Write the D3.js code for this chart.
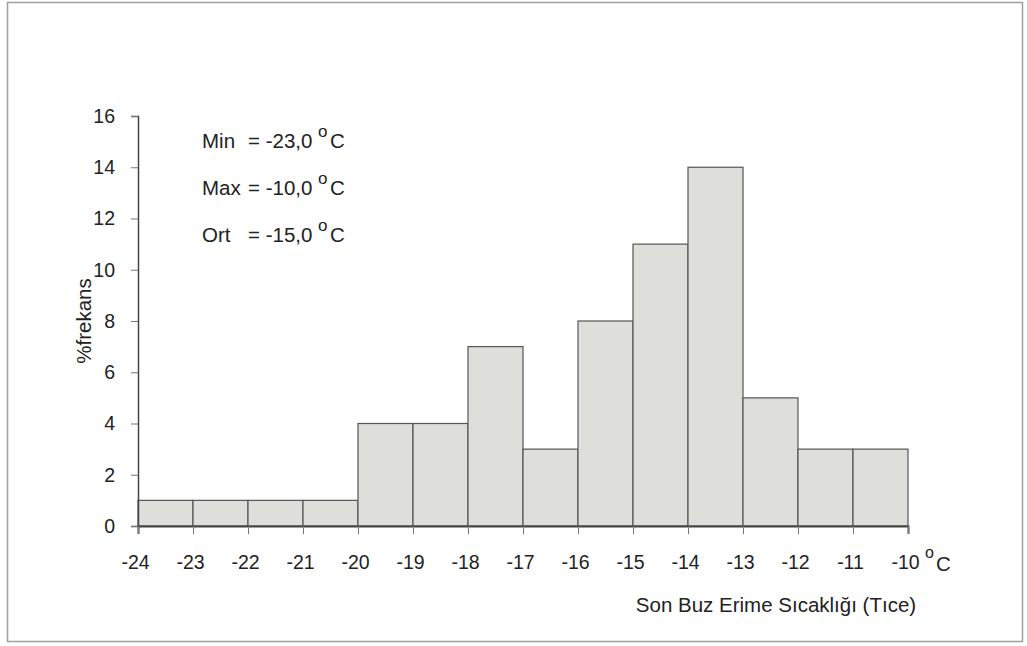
<!DOCTYPE html>
<html>
<head>
<meta charset="UTF-8"/>
<style>
  body { margin: 0; background: #fff; }
  text { font-family: "Liberation Sans", Arial, sans-serif; fill: #222; }
</style>
</head>
<body>
<script src="https://d3js.org/d3.v7.min.js"></script>
<script>
// bin edges and % frequencies
var binStarts = [-24, -23, -22, -21, -20, -19, -18, -17, -16, -15, -14, -13, -12, -11];
var freqs     = [1, 1, 1, 1, 4, 4, 7, 3, 8, 11, 14, 5, 3, 3];
var xTicks = [-24, -23, -22, -21, -20, -19, -18, -17, -16, -15, -14, -13, -12, -11, -10];
var yTicks = [0, 2, 4, 6, 8, 10, 12, 14, 16];
var statNames = ["Min", "Max", "Ort"];
var statValues = ["-23,0", "-10,0", "-15,0"];

var W = 1027, H = 646, FS = 19.5, FL = 20.5;
var svg = d3.select("body").append("svg").attr("width", W).attr("height", H);

// outer frame
svg.append("rect").attr("x", 7.5).attr("y", 2.5).attr("width", 1015).attr("height", 639)
  .attr("fill", "#fff").attr("stroke", "#a0a0a0").attr("stroke-width", 1.5);

var x = d3.scaleLinear().domain([-24, -10]).range([138, 908]);
var y = d3.scaleLinear().domain([0, 16]).range([526, 116]);

// bars
svg.selectAll("rect.bar")
  .data(binStarts)
  .enter().append("rect")
    .attr("class", "bar")
    .attr("x", function(d){ return x(d); })
    .attr("y", function(d, i){ return y(freqs[i]); })
    .attr("width", function(d){ return x(d + 1) - x(d); })
    .attr("height", function(d, i){ return y(0) - y(freqs[i]); })
    .attr("fill", "#dededb")
    .attr("stroke", "#555")
    .attr("stroke-width", 1.2);

// y axis
var yAxis = svg.append("g").attr("transform", "translate(138,0)")
  .call(d3.axisLeft(y).tickValues(yTicks).tickSize(7).tickPadding(16)
    .tickFormat(function(d){ return String(d); }));
// x axis
var xAxis = svg.append("g").attr("transform", "translate(0,526)")
  .call(d3.axisBottom(x).tickValues(xTicks).tickSize(8).tickPadding(21)
    .tickFormat(function(d){ return String(d); }));

[yAxis, xAxis].forEach(function(g){
  g.select(".domain").attr("stroke", "#444").attr("stroke-width", 1.5);
  g.selectAll(".tick line").attr("stroke", "#777");
  g.selectAll(".tick text").attr("font-size", FS).attr("fill", "#222")
    .attr("font-family", "Liberation Sans, Arial, sans-serif");
});
xAxis.select(".domain").attr("stroke-width", 2);
xAxis.selectAll(".tick text").attr("dx", -3);

// °C unit after the last x tick
svg.append("text").attr("x", 925).attr("y", 558).attr("font-size", 16).text("o");
svg.append("text").attr("x", 936).attr("y", 571).attr("font-size", FL).text("C");

// axis titles
svg.append("text").attr("x", 776).attr("y", 612).attr("text-anchor", "middle")
  .attr("font-size", FL).text("Son Buz Erime Sıcaklığı (Tıce)");
svg.append("text").attr("transform", "translate(91,321) rotate(-90)")
  .attr("text-anchor", "middle").attr("font-size", FL).text("%frekans");

// stats box
statNames.forEach(function(s, i){
  var by = 148 + i * 47;
  svg.append("text").attr("x", 202).attr("y", by).attr("font-size", FL).text(s);
  svg.append("text").attr("x", 248).attr("y", by).attr("font-size", FL).text("= " + statValues[i]);
  svg.append("text").attr("x", 318).attr("y", by - 11).attr("font-size", 17).text("o");
  svg.append("text").attr("x", 330).attr("y", by).attr("font-size", FL).text("C");
});
</script>
</body>
</html>
